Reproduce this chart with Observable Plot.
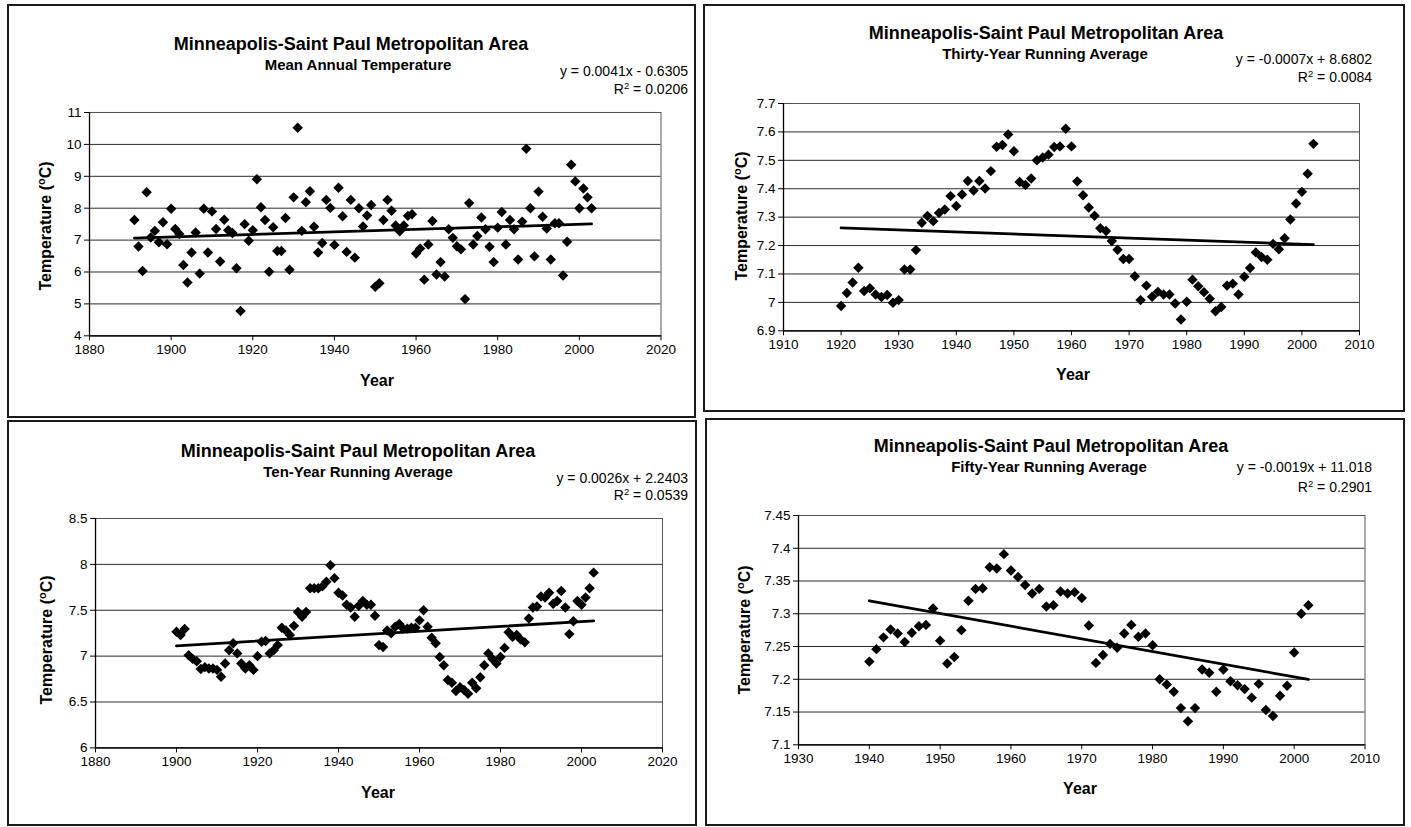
<!DOCTYPE html>
<html>
<head>
<meta charset="utf-8">
<title>Minneapolis-Saint Paul Metropolitan Area temperature</title>
<script src="https://cdn.jsdelivr.net/npm/d3@7"></script>
<script src="https://cdn.jsdelivr.net/npm/@observablehq/plot@0.6"></script>
<style>
  html, body { margin: 0; padding: 0; background: #fff; }
  body { position: relative; width: 1411px; height: 827px; overflow: hidden;
         font-family: "Liberation Sans", Arial, Helvetica, sans-serif; color: #000; }
  .box { position: absolute; border: 2px solid #1a1a1a; box-sizing: border-box; }
  .txt { position: absolute; white-space: nowrap; line-height: 1; }
  .title { font-weight: bold; font-size: 18px; transform: translate(-50%, -50%); }
  .sub { font-weight: bold; font-size: 15px; transform: translate(-50%, -50%); }
  .eq { font-size: 14px; transform: translate(-100%, -50%); }
  .xlab { font-weight: bold; font-size: 16px; transform: translate(-50%, -50%); }
  .ylab { font-weight: bold; font-size: 16px; transform: translate(-50%, -50%) rotate(-90deg); }
  sup { font-size: 0.68em; vertical-align: 0.55em; line-height: 0; }
  svg { position: absolute; }
</style>
</head>
<body>
<script>
// ---- Data -------------------------------------------------------------

const chartTitle = "Minneapolis-Saint Paul Metropolitan Area";

// Mean annual temperature (°C), one value per year from 1891
const annualFirstYear = 1891;
const annualTemps = [
  7.63, 6.80, 6.03, 8.50, 7.08, 7.29, 6.93, 7.56, 6.87,             // 1891-1899
  7.98, 7.35, 7.19, 6.22, 5.67, 6.61, 7.24, 5.95, 7.98, 6.61,       // 1900s
  7.90, 7.35, 6.33, 7.64, 7.31, 7.22, 6.12, 4.78, 7.50, 6.98,       // 1910s
  7.31, 8.91, 8.03, 7.63, 6.01, 7.40, 6.66, 6.66, 7.69, 6.07,       // 1920s
  8.34, 10.52, 7.29, 8.19, 8.53, 7.42, 6.61, 6.91, 8.26, 8.01,      // 1930s
  6.85, 8.64, 7.75, 6.63, 8.26, 6.45, 8.00, 7.43, 7.77, 8.10,       // 1940s
  5.54, 5.65, 7.63, 8.26, 7.92, 7.46, 7.28, 7.46, 7.76, 7.81,       // 1950s
  6.58, 6.74, 5.76, 6.86, 7.60, 5.92, 6.31, 5.86, 7.34, 7.07,       // 1960s
  6.81, 6.71, 5.15, 8.16, 6.86, 7.13, 7.71, 7.34, 6.79, 6.31,       // 1970s
  7.39, 7.88, 6.86, 7.63, 7.34, 6.39, 7.58, 9.86, 8.00, 6.49,       // 1980s
  8.52, 7.73, 7.36, 6.39, 7.53, 7.53, 5.89, 6.95, 9.36, 8.84,       // 1990s
  8.00, 8.62, 8.34, 8.00                                            // 2000-2003
];

// Thirty-year running average (°C) from 1920
const thirtyFirstYear = 1920;
const thirtyTemps = [
  6.987, 7.033, 7.070, 7.122, 7.040, 7.050, 7.028, 7.019, 7.026, 6.999,  // 1920s
  7.008, 7.116, 7.116, 7.184, 7.280, 7.304, 7.286, 7.315, 7.327, 7.374,  // 1930s
  7.339, 7.380, 7.427, 7.394, 7.427, 7.401, 7.462, 7.548, 7.554, 7.591,  // 1940s
  7.532, 7.424, 7.413, 7.436, 7.500, 7.510, 7.520, 7.547, 7.549, 7.611,  // 1950s
  7.549, 7.426, 7.377, 7.334, 7.305, 7.261, 7.251, 7.216, 7.185, 7.153,  // 1960s
  7.153, 7.092, 7.008, 7.059, 7.020, 7.037, 7.028, 7.028, 6.996, 6.940,  // 1970s
  7.002, 7.080, 7.057, 7.036, 7.013, 6.969, 6.984, 7.059, 7.066, 7.028,  // 1980s
  7.090, 7.121, 7.176, 7.160, 7.150, 7.206, 7.187, 7.226, 7.292, 7.348,  // 1990s
  7.389, 7.453, 7.558                                                    // 2000-2002
];

// Ten-year running average (°C) from 1900
const tenFirstYear = 1900;
const tenTemps = [
  7.265, 7.230, 7.295, 7.010, 6.970, 6.945, 6.860, 6.880, 6.865, 6.865,  // 1900s
  6.850, 6.775, 6.920, 7.065, 7.140, 7.030, 6.920, 6.865, 6.900, 6.850,  // 1910s
  7.000, 7.156, 7.164, 7.030, 7.065, 7.120, 7.310, 7.280, 7.230, 7.330,  // 1920s
  7.480, 7.430, 7.480, 7.740, 7.740, 7.740, 7.760, 7.810, 7.990, 7.850,  // 1930s
  7.690, 7.660, 7.560, 7.530, 7.430, 7.550, 7.600, 7.560, 7.560, 7.440,  // 1940s
  7.120, 7.100, 7.280, 7.250, 7.320, 7.350, 7.300, 7.300, 7.310, 7.310,  // 1950s
  7.390, 7.500, 7.320, 7.200, 7.140, 6.990, 6.900, 6.740, 6.710, 6.620,  // 1960s
  6.660, 6.630, 6.590, 6.710, 6.650, 6.770, 6.900, 7.030, 6.970, 6.920,  // 1970s
  6.990, 7.090, 7.260, 7.210, 7.230, 7.180, 7.150, 7.410, 7.530, 7.540,  // 1980s
  7.650, 7.640, 7.690, 7.570, 7.600, 7.710, 7.530, 7.240, 7.380, 7.600,  // 1990s
  7.560, 7.640, 7.740, 7.910                                             // 2000-2003
];

// Fifty-year running average (°C) from 1940
const fiftyFirstYear = 1940;
const fiftyTemps = [
  7.227, 7.246, 7.264, 7.276, 7.270, 7.257, 7.271, 7.281, 7.283, 7.308,  // 1940s
  7.259, 7.224, 7.234, 7.275, 7.320, 7.338, 7.339, 7.371, 7.369, 7.391,  // 1950s
  7.366, 7.356, 7.344, 7.331, 7.338, 7.311, 7.313, 7.334, 7.331, 7.333,  // 1960s
  7.324, 7.282, 7.225, 7.237, 7.254, 7.248, 7.270, 7.283, 7.265, 7.270,  // 1970s
  7.252, 7.200, 7.192, 7.181, 7.156, 7.136, 7.156, 7.215, 7.210, 7.181,  // 1980s
  7.215, 7.197, 7.191, 7.185, 7.172, 7.193, 7.153, 7.144, 7.175, 7.190,  // 1990s
  7.241, 7.300, 7.313                                                    // 2000-2002
];

// Axis ticks
const annualXTicks = [1880, 1900, 1920, 1940, 1960, 1980, 2000, 2020];
const annualYTicks = [4, 5, 6, 7, 8, 9, 10, 11];
const thirtyXTicks = [1910, 1920, 1930, 1940, 1950, 1960, 1970, 1980, 1990, 2000, 2010];
const thirtyYTicks = [6.9, 7, 7.1, 7.2, 7.3, 7.4, 7.5, 7.6, 7.7];
const tenXTicks = [1880, 1900, 1920, 1940, 1960, 1980, 2000, 2020];
const tenYTicks = [6, 6.5, 7, 7.5, 8, 8.5];
const fiftyXTicks = [1930, 1940, 1950, 1960, 1970, 1980, 1990, 2000, 2010];
const fiftyYTicks = [7.1, 7.15, 7.2, 7.25, 7.3, 7.35, 7.4, 7.45];

// Subtitles and the trendline equations printed on each chart
const subtitles = ["Mean Annual Temperature", "Thirty-Year Running Average",
                   "Ten-Year Running Average", "Fifty-Year Running Average"];
const equations = ["y = 0.0041x - 0.6305", "y = -0.0007x + 8.6802",
                   "y = 0.0026x + 2.2403", "y = -0.0019x + 11.018"];
const rSquared = ["0.0206", "0.0084", "0.0539", "0.2901"];

// ---- Layout (page pixels) ---------------------------------------------

const layout = [
  { box: [7, 4, 696, 418],     frame: [88.5, 111.7, 660, 335],
    titleX: 351, titleY: 44, subX: 358, subY: 64, eqRight: 688, eqY: 71, r2Y: 89,
    yearX: 377, yearY: 381, yLabX: 46, yLabY: 226 },
  { box: [703, 4, 1405, 412],  frame: [783, 102.7, 1359, 330],
    titleX: 1046, titleY: 33, subX: 1045, subY: 53, eqRight: 1372, eqY: 59, r2Y: 77,
    yearX: 1073, yearY: 375, yLabX: 742, yLabY: 216 },
  { box: [7, 420, 697, 826],   frame: [95, 518.3, 662, 747.7],
    titleX: 358, titleY: 451, subX: 358, subY: 471, eqRight: 688, eqY: 478, r2Y: 495,
    yearX: 378, yearY: 793, yLabX: 47, yLabY: 640 },
  { box: [705, 418, 1405, 826], frame: [797.5, 515, 1364, 744.3],
    titleX: 1051, titleY: 446, subX: 1049, subY: 466, eqRight: 1372, eqY: 467, r2Y: 487,
    yearX: 1080, yearY: 789, yLabX: 745, yLabY: 630 }
];

const series = [
  { firstYear: annualFirstYear, values: annualTemps, xTicks: annualXTicks, yTicks: annualYTicks },
  { firstYear: thirtyFirstYear, values: thirtyTemps, xTicks: thirtyXTicks, yTicks: thirtyYTicks },
  { firstYear: tenFirstYear,    values: tenTemps,    xTicks: tenXTicks,    yTicks: tenYTicks },
  { firstYear: fiftyFirstYear,  values: fiftyTemps,  xTicks: fiftyXTicks,  yTicks: fiftyYTicks }
];

// ---- Drawing ----------------------------------------------------------

const ML = 60, MR = 20, MT = 12, MB = 34;

function addText(html, cls, x, y) {
  const el = document.createElement("div");
  el.className = "txt " + cls;
  el.innerHTML = html;
  el.style.left = x + "px";
  el.style.top = y + "px";
  document.body.appendChild(el);
  return el;
}

series.forEach((s, k) => {
  const L = layout[k];
  const [bl, bt, br, bb] = L.box;
  const box = document.createElement("div");
  box.className = "box";
  Object.assign(box.style, { left: bl + "px", top: bt + "px",
                             width: (br - bl) + "px", height: (bb - bt) + "px" });
  document.body.appendChild(box);

  const [fl, ft, fr, fb] = L.frame;
  const data = s.values.map((t, i) => ({ year: s.firstYear + i, temp: t }));
  const xDomain = [s.xTicks[0], s.xTicks[s.xTicks.length - 1]];
  const yDomain = [s.yTicks[0], s.yTicks[s.yTicks.length - 1]];

  const svg = Plot.plot({
    width: fr - fl + ML + MR,
    height: fb - ft + MT + MB,
    marginLeft: ML, marginRight: MR, marginTop: MT, marginBottom: MB,
    style: { fontFamily: "'Liberation Sans', Arial, sans-serif", fontSize: "13.5px",
             color: "#000", background: "transparent", overflow: "visible" },
    x: { domain: xDomain },
    y: { domain: yDomain },
    marks: [
      Plot.gridY(s.yTicks, { stroke: "#2a2a2a", strokeOpacity: 1, strokeWidth: 1 }),
      Plot.frame({ stroke: "#555", strokeWidth: 1 }),
      Plot.ruleX([xDomain[0]], { stroke: "#000", strokeWidth: 1.3 }),
      Plot.ruleY([yDomain[0]], { stroke: "#000", strokeWidth: 1.3 }),
      Plot.axisX(s.xTicks, { tickSize: 5, tickPadding: 4, tickFormat: String, label: null }),
      Plot.axisY(s.yTicks, { tickSize: 5, tickPadding: 3, tickFormat: String, label: null }),
      Plot.dot(data, { x: "year", y: "temp", symbol: "diamond2", r: 4.7, fill: "#000", stroke: "none" }),
      Plot.linearRegressionY(data, { x: "year", y: "temp", stroke: "#000", strokeWidth: 2.8, ci: 0 })
    ]
  });
  svg.style.left = (fl - ML) + "px";
  svg.style.top = (ft - MT) + "px";
  document.body.appendChild(svg);

  addText(chartTitle, "title", L.titleX, L.titleY);
  addText(subtitles[k], "sub", L.subX, L.subY);
  addText(equations[k], "eq", L.eqRight, L.eqY);
  addText("R<sup>2</sup> = " + rSquared[k], "eq", L.eqRight, L.r2Y);
  addText("Year", "xlab", L.yearX, L.yearY);
  addText("Temperature (<sup>o</sup>C)", "ylab", L.yLabX, L.yLabY);
});
</script>
</body>
</html>
